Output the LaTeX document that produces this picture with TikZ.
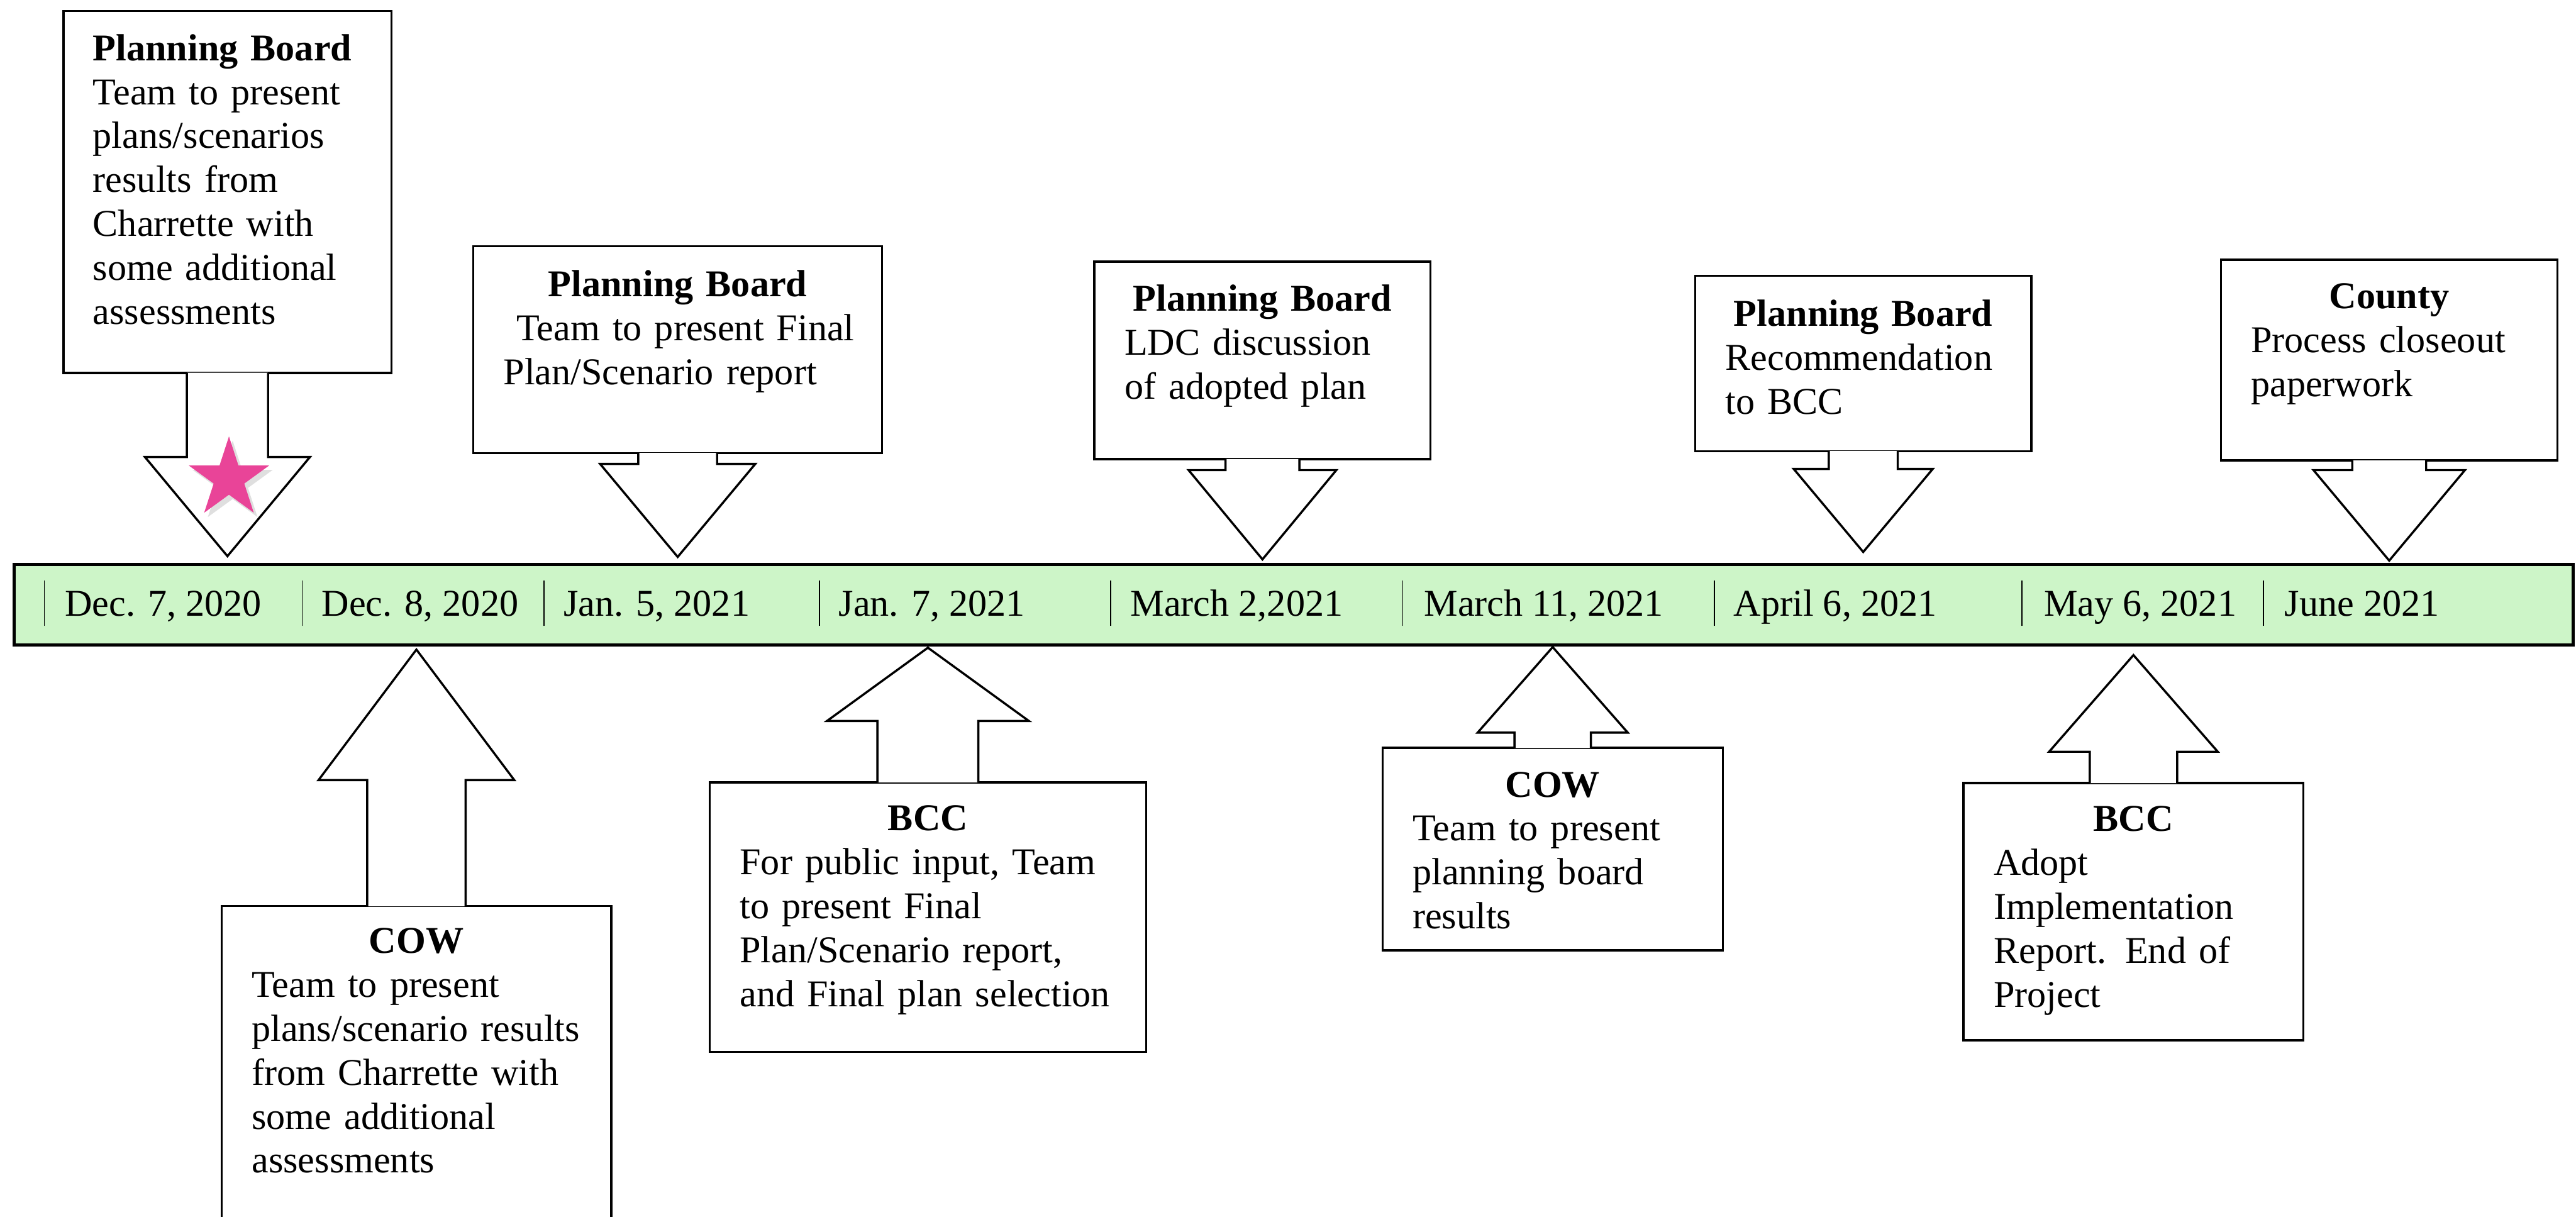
\documentclass[tikz,border=0pt]{standalone}
\usepackage{fontspec}
\setmainfont{Liberation Serif}
\usetikzlibrary{calc,positioning,shapes.geometric,shadows}
\definecolor{vertfrise}{RGB}{205,245,200}
\definecolor{rose}{RGB}{233,68,152}

\begin{document}
\begin{tikzpicture}
        \tikzstyle {boite} = [rectangle, draw=black, line width=1pt, fill=white, inner sep=0pt]
        \tikzstyle {texte} = [inner sep=0pt, align=left, font=\fontsize{17.5}{20.3}\selectfont]
        \tikzstyle {fleche} = [draw=black, line width=1pt, fill=white]
        \tikzstyle {bande} = [rectangle, draw=black, line width=1.5pt, fill=vertfrise]
        \tikzstyle {datefrise} = [anchor=base west, inner sep=0pt, font=\fontsize{17.5}{20.3}\selectfont]
        \tikzstyle {tiret} = [line width=0.5pt]
        \useasboundingbox (0,0) rectangle (41.85,19.77);
        \clip (0,0) rectangle (41.85,19.77);

        % Frise
        \node (frise) [bande, minimum width=41.57cm, minimum height=1.31cm] at (21.015,9.945) {};
        \node (dec7) [datefrise] at (1.05,9.76) {Dec. 7, 2020};
        \node (dec8) [datefrise] at (5.22,9.76) {Dec. 8, 2020};
        \node (jan5) [datefrise] at (9.15,9.76) {Jan. 5, 2021};
        \node (jan7) [datefrise] at (13.62,9.76) {Jan. 7, 2021};
        \node (mar2) [datefrise] at (18.36,9.76) {March 2,2021};
        \node (mar11) [datefrise] at (23.13,9.76) {March 11, 2021};
        \node (apr6) [datefrise] at (28.16,9.76) {April 6, 2021};
        \node (may6) [datefrise] at (33.20,9.76) {May 6, 2021};
        \node (jun) [datefrise] at (37.11,9.76) {June 2021};
        \draw[tiret] ($(dec7.base west)+(-0.33,-0.16)$) -- ++(0,0.74);
        \draw[tiret] ($(dec8.base west)+(-0.31,-0.16)$) -- ++(0,0.74);
        \draw[tiret] ($(jan5.base west)+(-0.31,-0.16)$) -- ++(0,0.74);
        \draw[tiret] ($(jan7.base west)+(-0.31,-0.16)$) -- ++(0,0.74);
        \draw[tiret] ($(mar2.base west)+(-0.32,-0.16)$) -- ++(0,0.74);
        \draw[tiret] ($(mar11.base west)+(-0.34,-0.16)$) -- ++(0,0.74);
        \draw[tiret] ($(apr6.base west)+(-0.31,-0.16)$) -- ++(0,0.74);
        \draw[tiret] ($(may6.base west)+(-0.35,-0.16)$) -- ++(0,0.74);
        \draw[tiret] ($(jun.base west)+(-0.34,-0.16)$) -- ++(0,0.74);

        % Appels du haut
        \node (pb_dec7) [boite, minimum width=5.33cm, minimum height=5.88cm, anchor=north] at (3.695,19.61) {};
        \coordinate (pb_dec7_pointe) at ($(pb_dec7.south)+(0,-2.96)$);
        \filldraw[fleche] ($(pb_dec7.south)+(-0.66,0.02)$) -- ++(0,-1.37) -- ++(-0.68,0) -- (pb_dec7_pointe) -- ($(pb_dec7.south)+(1.34,-1.35)$) -- ++(-0.68,0) -- ++(0,1.37);
        \node (pb_dec7_txt) [texte, text width=4.37cm, below=0.39cm of pb_dec7.north] {\textbf{Planning Board}\\Team to present\\plans/scenarios\\results from\\Charrette with\\some additional\\assessments};

        \node (pb_jan5) [boite, minimum width=6.64cm, minimum height=3.36cm] at (11.01,14.09) {};
        \coordinate (pb_jan5_pointe) at ($(pb_jan5.south)+(0,-1.67)$);
        \filldraw[fleche] ($(pb_jan5.south)+(-0.64,0.02)$) -- ++(0,-0.18) -- ++(-0.62,0) -- (pb_jan5_pointe) -- ($(pb_jan5.south)+(1.26,-0.16)$) -- ++(-0.62,0) -- ++(0,0.18);
        \node (pb_jan5_txt) [texte, text width=5.9cm, below=0.40cm of pb_jan5.north] {{\centering\textbf{Planning Board}\par}\hspace*{0.33cm}Team to present Final\\\hspace*{0.12cm}Plan/Scenario report};

        \node (pb_mar2) [boite, minimum width=5.46cm, minimum height=3.21cm] at (20.51,13.915) {};
        \coordinate (pb_mar2_pointe) at ($(pb_mar2.south)+(0,-1.61)$);
        \filldraw[fleche] ($(pb_mar2.south)+(-0.60,0.02)$) -- ++(0,-0.18) -- ++(-0.60,0) -- (pb_mar2_pointe) -- ($(pb_mar2.south)+(1.20,-0.16)$) -- ++(-0.60,0) -- ++(0,0.18);
        \node (pb_mar2_txt) [texte, text width=4.48cm, below=0.39cm of pb_mar2.north] {{\centering\textbf{Planning Board}\par}LDC discussion\\of adopted plan};

        \node (pb_apr6) [boite, minimum width=5.46cm, minimum height=2.85cm] at (30.27,13.865) {};
        \coordinate (pb_apr6_pointe) at ($(pb_apr6.south)+(0,-1.62)$);
        \filldraw[fleche] ($(pb_apr6.south)+(-0.56,0.02)$) -- ++(0,-0.29) -- ++(-0.57,0) -- (pb_apr6_pointe) -- ($(pb_apr6.south)+(1.13,-0.27)$) -- ++(-0.57,0) -- ++(0,0.29);
        \node (pb_apr6_txt) [texte, text width=4.48cm, below=0.40cm of pb_apr6.north] {{\centering\textbf{Planning Board}\par}Recommendation\\to BCC};

        \node (county_jun) [boite, minimum width=5.47cm, minimum height=3.26cm] at (38.815,13.92) {};
        \coordinate (county_jun_pointe) at ($(county_jun.south)+(0,-1.61)$);
        \filldraw[fleche] ($(county_jun.south)+(-0.60,0.02)$) -- ++(0,-0.16) -- ++(-0.63,0) -- (county_jun_pointe) -- ($(county_jun.south)+(1.23,-0.14)$) -- ++(-0.63,0) -- ++(0,0.16);
        \node (county_jun_txt) [texte, text width=4.49cm, below=0.40cm of county_jun.north] {{\centering\textbf{County}\par}Process closeout\\paperwork};

        % Appels du bas
        \node (cow_dec8) [boite, minimum width=6.33cm, minimum height=5.35cm] at (6.765,2.375) {};
        \coordinate (cow_dec8_pointe) at ($(cow_dec8.north)+(0,4.15)$);
        \filldraw[fleche] ($(cow_dec8.north)+(-0.80,-0.02)$) -- ++(0,2.05) -- ++(-0.79,0) -- (cow_dec8_pointe) -- ($(cow_dec8.north)+(1.59,2.03)$) -- ++(-0.79,0) -- ++(0,-2.05);
        \node (cow_dec8_txt) [texte, text width=5.35cm, below=0.37cm of cow_dec8.north] {{\centering\textbf{COW}\par}Team to present\\plans/scenario results\\from Charrette with\\some additional\\assessments};

        \node (bcc_jan7) [boite, minimum width=7.09cm, minimum height=4.38cm] at (15.075,4.87) {};
        \coordinate (bcc_jan7_pointe) at ($(bcc_jan7.north)+(0,2.17)$);
        \filldraw[fleche] ($(bcc_jan7.north)+(-0.82,-0.02)$) -- ++(0,1.00) -- ++(-0.82,0) -- (bcc_jan7_pointe) -- ($(bcc_jan7.north)+(1.64,0.98)$) -- ++(-0.82,0) -- ++(0,-1.00);
        \node (bcc_jan7_txt) [texte, text width=6.11cm, below=0.39cm of bcc_jan7.north] {{\centering\textbf{BCC}\par}For public input, Team\\to present Final\\Plan/Scenario report,\\and Final plan selection};

        \node (cow_mar11) [boite, minimum width=5.53cm, minimum height=3.29cm] at (25.225,5.975) {};
        \coordinate (cow_mar11_pointe) at ($(cow_mar11.north)+(0,1.62)$);
        \filldraw[fleche] ($(cow_mar11.north)+(-0.62,-0.02)$) -- ++(0,0.25) -- ++(-0.60,0) -- (cow_mar11_pointe) -- ($(cow_mar11.north)+(1.22,0.23)$) -- ++(-0.60,0) -- ++(0,-0.25);
        \node (cow_mar11_txt) [texte, text width=4.55cm, below=0.40cm of cow_mar11.north] {{\centering\textbf{COW}\par}Team to present\\planning board\\results};

        \node (bcc_may6) [boite, minimum width=5.52cm, minimum height=4.18cm] at (34.66,4.96) {};
        \coordinate (bcc_may6_pointe) at ($(bcc_may6.north)+(0,2.06)$);
        \filldraw[fleche] ($(bcc_may6.north)+(-0.71,-0.02)$) -- ++(0,0.51) -- ++(-0.66,0) -- (bcc_may6_pointe) -- ($(bcc_may6.north)+(1.37,0.49)$) -- ++(-0.66,0) -- ++(0,-0.51);
        \node (bcc_may6_txt) [texte, text width=4.54cm, below=0.39cm of bcc_may6.north] {{\centering\textbf{BCC}\par}Adopt\\Implementation\\Report. End of\\Project};

        % Étoile
        \node (etoile) [star, star points=5, star point ratio=2.618, minimum size=1.37cm, inner sep=0pt, fill=rose, drop shadow={opacity=0.25, shadow xshift=0.06cm, shadow yshift=-0.07cm}] at (3.72,11.995) {};
\end{tikzpicture}
\end{document}
